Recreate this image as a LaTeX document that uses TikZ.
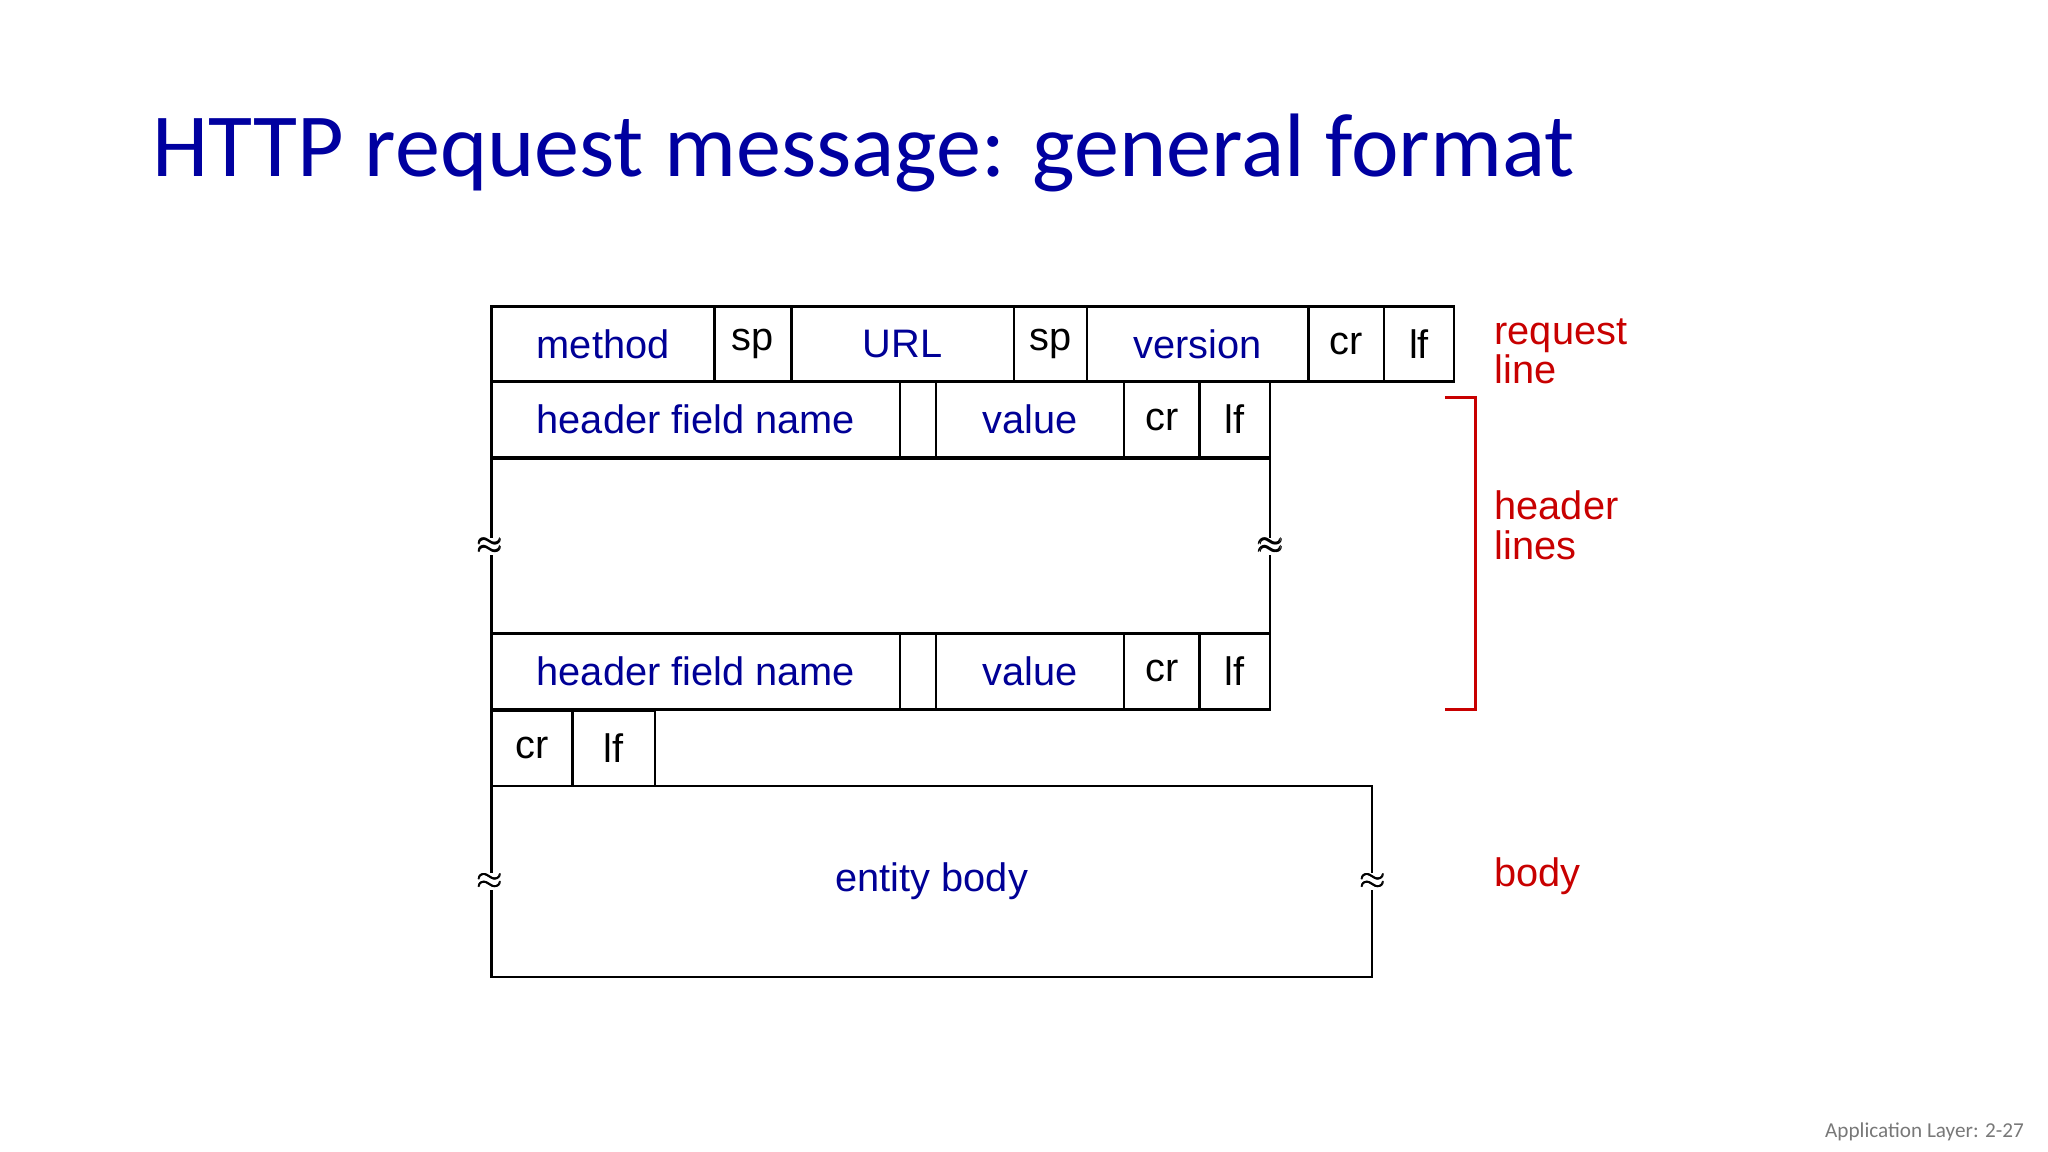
\documentclass[tikz,border=0pt]{standalone}
\usepackage{amsmath}
\usepackage{fontspec}
\setmainfont{Liberation Sans}
\newfontfamily\slidefont{Carlito}
\definecolor{titleblue}{RGB}{0,0,160}
\definecolor{cellblue}{RGB}{0,0,150}
\definecolor{labelred}{RGB}{200,0,0}
\definecolor{footgrey}{RGB}{120,120,120}
\tikzset{
  cell/.style={draw, line width=2pt, anchor=north west, inner sep=0pt, minimum height=57pt, font=\fontsize{30}{34}\selectfont},
  bluecell/.style={cell, text=cellblue},
  squiggle/.style={fill=white, inner sep=0pt, font=\fontsize{40}{40}\selectfont},
  side/.style={text=labelred, anchor=west, align=left, font=\fontsize{30}{34}\selectfont}
}
\begin{document}
\begin{tikzpicture}[x=1pt, y=-1pt]
\useasboundingbox (0,0) rectangle (1545,869);

\node[anchor=base west, text=titleblue, font=\slidefont\fontsize{68}{70}\selectfont, inner sep=0pt] (title) at (115,133) {HTTP request message: general format};

% request line
\node[bluecell, minimum width=168pt] (method) at (370,230) {method};
\node[cell, minimum width=58pt] (sp1) at (538,230) {sp};
\node[bluecell, minimum width=168pt] (url) at (596,230) {URL};
\node[cell, minimum width=55pt] (sp2) at (764,230) {sp};
\node[bluecell, minimum width=167pt] (version) at (819,230) {version};
\node[cell, minimum width=57pt] (cr1) at (986,230) {cr};
\node[cell, minimum width=53pt] (lf1) at (1043,230) {lf};

% first header line
\node[bluecell, minimum width=308pt] (name1) at (370,287) {header field name};
\node[cell, minimum width=27pt] (gap1) at (678,287) {};
\node[bluecell, minimum width=142pt] (value1) at (705,287) {value};
\node[cell, minimum width=57pt] (cr2) at (847,287) {cr};
\node[cell, minimum width=53pt] (lf2) at (904,287) {lf};

% omitted header lines
\node[cell, minimum width=587pt, minimum height=132pt] (more) at (370,345) {};
\node[squiggle] (wl1) at (more.west) {$\pmb{\approx}$};
\node[squiggle] (wr1) at (more.east) {$\pmb{\approx}$};

% last header line
\node[bluecell, minimum width=308pt] (name2) at (370,477) {header field name};
\node[cell, minimum width=27pt] (gap2) at (678,477) {};
\node[bluecell, minimum width=142pt] (value2) at (705,477) {value};
\node[cell, minimum width=57pt] (cr3) at (847,477) {cr};
\node[cell, minimum width=53pt] (lf3) at (904,477) {lf};

% blank line
\node[cell, minimum width=61pt] (cr4) at (370,535) {cr};
\node[cell, minimum width=62pt] (lf4) at (431,535) {lf};

% body
\node[bluecell, minimum width=664pt, minimum height=144pt] (body) at (370,592) {entity body};
\node[squiggle] (wl2) at (body.west) {$\pmb{\approx}$};
\node[squiggle] (wr2) at (body.east) {$\pmb{\approx}$};

% labels
\node[side] (reqlabel) at (1124,265) {request\\[-4pt]line};
\node[side] (hdrlabel) at (1124,396) {header\\[-4pt]lines};
\node[side] (bodylabel) at (1124,661) {body};
\coordinate (brtop) at (1090,300);
\coordinate (brbot) at (1090,535);
\draw[labelred, line width=2pt] (brtop) -- ++(23,0) |- (brbot);

\node[anchor=base east, text=footgrey, font=\slidefont\fontsize{16}{18}\selectfont, inner sep=0pt] (foot) at (1527,858) {Application Layer: 2-27};
\end{tikzpicture}
\end{document}
